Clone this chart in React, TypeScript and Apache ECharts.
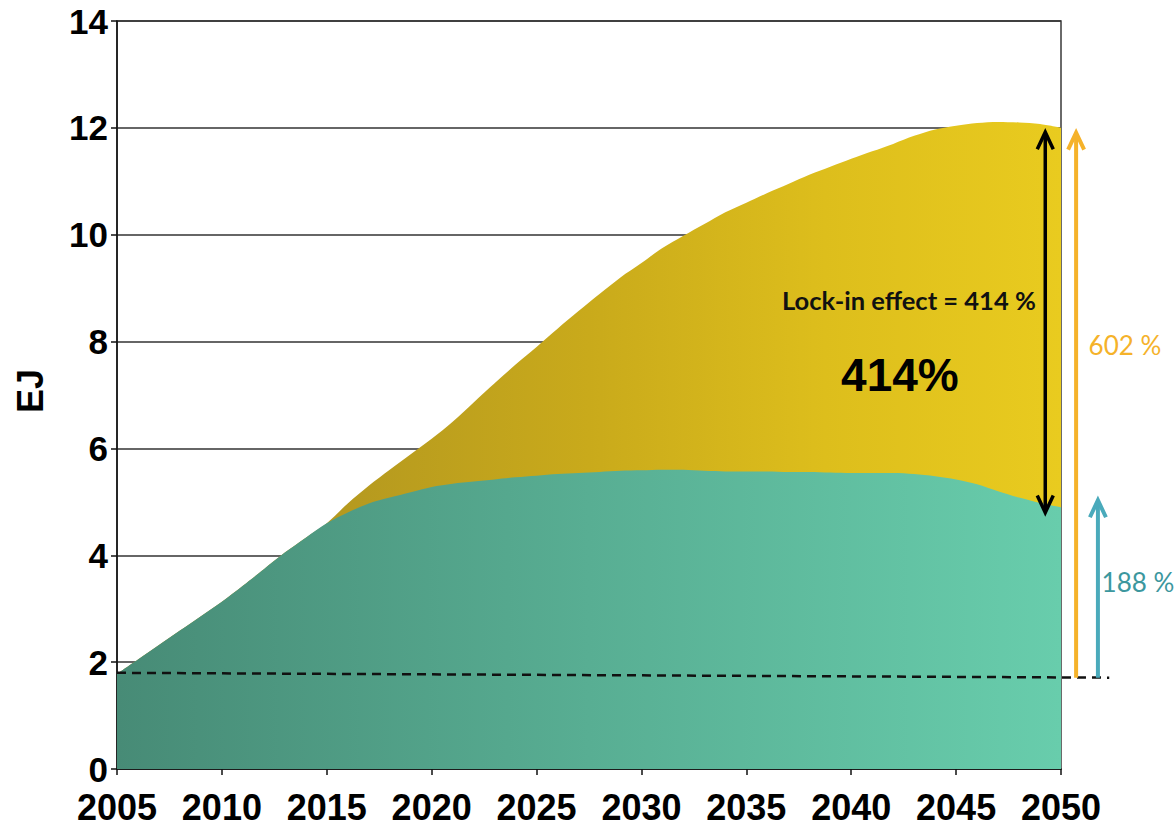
import React, { useEffect, useRef } from "react";
import * as echarts from "echarts";

const years = [
  2005, 2006, 2007, 2008, 2009, 2010, 2011, 2012, 2013, 2014, 2015, 2016,
  2017, 2018, 2019, 2020, 2021, 2022, 2023, 2024, 2025, 2026, 2027, 2028,
  2029, 2030, 2031, 2032, 2033, 2034, 2035, 2036, 2037, 2038, 2039, 2040,
  2041, 2042, 2043, 2044, 2045, 2046, 2047, 2048, 2049, 2050,
];

// total demand (top of yellow area), EJ
const totalDemand = [
  1.78, 2.05, 2.32, 2.59, 2.86, 3.13, 3.43, 3.74, 4.05, 4.33, 4.6, 4.97,
  5.3, 5.6, 5.89, 6.18, 6.5, 6.86, 7.22, 7.57, 7.9, 8.24, 8.57, 8.89,
  9.2, 9.47, 9.75, 9.98, 10.2, 10.42, 10.6, 10.78, 10.95, 11.12, 11.27, 11.42,
  11.56, 11.7, 11.85, 11.97, 12.04, 12.09, 12.11, 12.1, 12.07, 12.0,
];

// demand without lock-in (top of teal area), EJ
const baseDemand = [
  1.78, 2.05, 2.32, 2.59, 2.86, 3.13, 3.43, 3.74, 4.05, 4.33, 4.6, 4.8,
  4.97, 5.08, 5.18, 5.28, 5.34, 5.38, 5.42, 5.46, 5.49, 5.52, 5.54, 5.56,
  5.58, 5.59, 5.6, 5.6, 5.58, 5.57, 5.57, 5.57, 5.56, 5.56, 5.55, 5.54,
  5.54, 5.54, 5.52, 5.48, 5.42, 5.33, 5.2, 5.08, 4.98, 4.9,
];

// 2005 reference level (dashed line), start and end
const referenceYears = [2005, 2052.3];
const referenceLevel = [1.8, 1.71];

// arrows: [year, from, to]
const lockInArrow = [2049.25, 4.8, 11.92];
const totalArrow = [2050.72, 1.71, 11.91];
const baseArrow = [2051.76, 1.71, 5.03];

const labels = {
  lockIn: "Lock-in effect = 414 %",
  big: "414%",
  total: "602 %",
  base: "188 %",
  yName: "EJ",
};

const FONT = "'Liberation Sans', Arial, sans-serif";
const SOFT = "Lato, 'Noto Sans', sans-serif";

export default function App() {
  const ref = useRef<HTMLDivElement>(null);

  useEffect(() => {
    if (!ref.current) return;
    const chart = echarts.init(ref.current, null, { renderer: "svg" });
    const total = years.map((y, i) => [y, totalDemand[i]]);
    const base = years.map((y, i) => [y, baseDemand[i]]);

    chart.setOption({
      animation: false,
      grid: {
        left: 117,
        right: 115,
        top: 21,
        bottom: 57,
        show: true,
        borderColor: "#3a3a3a",
        borderWidth: 1.5,
        backgroundColor: "transparent",
      },
      xAxis: {
        type: "value",
        min: 2005,
        max: 2050,
        interval: 5,
        axisLine: { show: true, lineStyle: { color: "#111", width: 1.5 } },
        axisTick: { show: true, length: 6, lineStyle: { color: "#111", width: 1.5 } },
        splitLine: { show: false },
        axisLabel: {
          color: "#000",
          fontFamily: FONT,
          fontWeight: "bold",
          fontSize: 36,
          margin: 20,
          formatter: (v: number) => String(v),
        },
      },
      yAxis: {
        type: "value",
        min: 0,
        max: 14,
        interval: 2,
        axisLine: { show: true, lineStyle: { color: "#111", width: 1.5 } },
        axisTick: { show: true, length: 6, lineStyle: { color: "#111", width: 1.5 } },
        splitLine: { show: true, lineStyle: { color: "#333", width: 1.5 } },
        axisLabel: {
          color: "#000",
          fontFamily: FONT,
          fontWeight: "bold",
          fontSize: 35,
          margin: 9,
        },
      },
      series: [
        {
          type: "line",
          data: total,
          showSymbol: false,
          smooth: 0.3,
          lineStyle: { width: 0 },
          areaStyle: {
            opacity: 1,
            color: new echarts.graphic.LinearGradient(0, 0, 1, 0, [
              { offset: 0, color: "#A58D22" },
              { offset: 0.25, color: "#B69A1F" },
              { offset: 0.5, color: "#C9AA1B" },
              { offset: 0.75, color: "#DDBE1C" },
              { offset: 1, color: "#E9CB1F" },
            ]),
          },
          z: 2,
        },
        {
          type: "line",
          data: base,
          showSymbol: false,
          smooth: 0.3,
          lineStyle: { width: 0 },
          areaStyle: {
            opacity: 1,
            color: new echarts.graphic.LinearGradient(0, 0, 1, 0, [
              { offset: 0, color: "#478B76" },
              { offset: 0.5, color: "#58AE93" },
              { offset: 1, color: "#68CDAC" },
            ]),
          },
          z: 3,
        },
      ],
    });

    const px = (x: number, y: number) =>
      chart.convertToPixel({ gridIndex: 0 }, [x, y]) as number[];

    const refA = px(referenceYears[0], referenceLevel[0]);
    const refB = px(referenceYears[1], referenceLevel[1]);

    const chevron = (x: number, tipY: number, dir: number, color: string, w: number, hw: number, hh: number) => ({
      type: "polyline",
      z: 20,
      shape: { points: [[x - hw, tipY + dir * hh], [x, tipY], [x + hw, tipY + dir * hh]] },
      style: { stroke: color, lineWidth: w, fill: "none", lineJoin: "miter", lineCap: "butt" },
    });

    const arrowGraphics = (a: number[], color: string, w: number, both: boolean) => {
      const top = px(a[0], a[2]);
      const bot = px(a[0], a[1]);
      const els: any[] = [
        {
          type: "rect",
          z: 20,
          shape: {
            x: top[0] - w / 2,
            y: top[1] + 2,
            width: w,
            height: (both ? bot[1] - 2 : bot[1]) - (top[1] + 2),
          },
          style: { fill: color },
        },
        chevron(top[0], top[1], 1, color, w, 8, 17),
      ];
      if (both) els.push(chevron(bot[0], bot[1], -1, color, w, 8, 17));
      return els;
    };

    const lockText = px(2042.75, 8.78);
    const bigText = px(2042.32, 7.37);
    const totalText = px(2053.05, 7.94);
    const baseText = px(2053.67, 3.5);

    chart.setOption({
      graphic: [
        {
          type: "line",
          z: 15,
          shape: { x1: refA[0], y1: refA[1], x2: refB[0], y2: refB[1] },
          style: { stroke: "#111", lineWidth: 2.5, lineDash: [9, 6] },
        },
        ...arrowGraphics(lockInArrow, "#000", 3.5, true),
        ...arrowGraphics(totalArrow, "#F5B22A", 4, false),
        ...arrowGraphics(baseArrow, "#4AAABB", 4, false),
        {
          type: "text",
          z: 21,
          x: lockText[0],
          y: lockText[1],
          style: {
            text: labels.lockIn,
            font: `bold 25.5px ${SOFT}`,
            fill: "#111",
            align: "center",
            verticalAlign: "middle",
          },
        },
        {
          type: "text",
          z: 21,
          x: bigText[0],
          y: bigText[1],
          style: {
            text: labels.big,
            font: `bold 46px ${FONT}`,
            fill: "#000",
            align: "center",
            verticalAlign: "middle",
          },
        },
        {
          type: "text",
          z: 21,
          x: totalText[0],
          y: totalText[1],
          style: {
            text: labels.total,
            font: `26px ${SOFT}`,
            fill: "#F5B22A",
            align: "center",
            verticalAlign: "middle",
          },
        },
        {
          type: "text",
          z: 21,
          x: baseText[0],
          y: baseText[1],
          style: {
            text: labels.base,
            font: `26px ${SOFT}`,
            fill: "#3C979E",
            align: "center",
            verticalAlign: "middle",
          },
        },
        {
          type: "text",
          z: 21,
          x: 30,
          y: 391,
          rotation: Math.PI / 2,
          style: {
            text: labels.yName,
            font: `bold 36px ${FONT}`,
            fill: "#000",
            align: "center",
            verticalAlign: "middle",
          },
        },
      ],
    });

    return () => chart.dispose();
  }, []);

  return (
    <div
      ref={ref}
      style={{ position: "fixed", left: 0, top: 0, width: 1176, height: 826, background: "#fff" }}
    />
  );
}
